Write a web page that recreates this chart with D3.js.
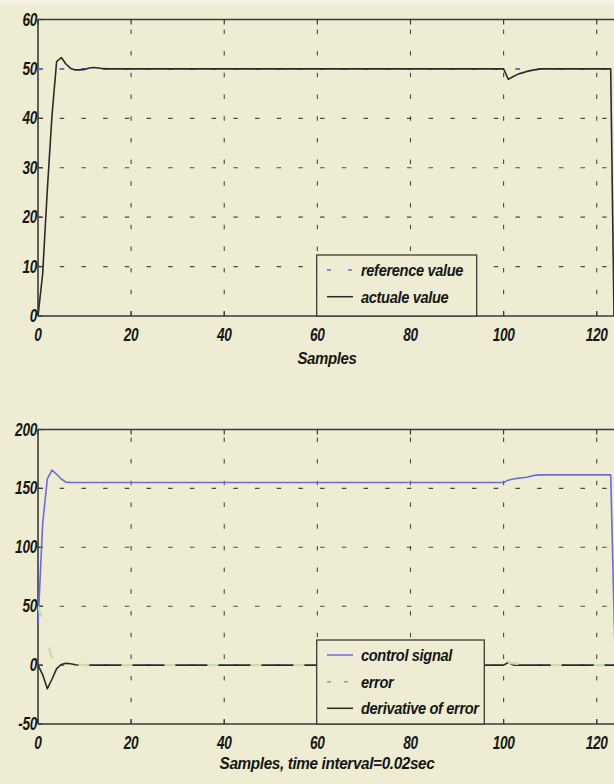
<!DOCTYPE html>
<html><head><meta charset="utf-8">
<script src="https://cdn.jsdelivr.net/npm/d3@7"></script>
<style>
html,body{margin:0;padding:0;background:#eeecd2;}
svg{display:block;}
</style></head>
<body>
<script>
// ---------- data ----------
const xTicks = [0,20,40,60,80,100,120];
const yTicksTop = [0,10,20,30,40,50,60];
const yTicksBot = [-50,0,50,100,150,200];

const refX = [0,125];
const refY = [50,50];
const actX = [0,1,2,3,4,5,6,7,8,9,10,11,12,13,14,15,100,101,102,103,104,105,106,107,108,123,124];
const actY = [0,8.5,25.5,40.5,51.5,52.3,51,50.1,49.8,49.8,49.9,50.2,50.3,50.2,50.05,50,50,47.9,48.4,48.9,49.2,49.5,49.7,49.85,50,50,-20];

const ctrlX = [0,1,2,3,4,5,6,7,100,101,102,103,104,105,106,107,108,123,124];
const ctrlY = [35,120,158,165.5,162,158,155.3,155,155,157,158,158.5,159,159.5,160.5,161.3,161.5,161.5,0];
const errX = [0,1,2,3,4,5,6,7,8,9,10,11,12,13,14,100,101,102,103,104,105,106,107,108,124];
const errY = [50,38,20,6,-1.5,-2.3,-1,-0.1,0.2,0.2,0.1,-0.2,-0.3,-0.2,0,0,2.1,1.6,1.1,0.8,0.5,0.3,0.15,0,0];
const derX = [0,1,2,3,4,5,6,7,8,9,100,101,102,103,124];
const derY = [0,-8,-20,-12,-3,0.5,1.5,1.2,0.3,0,0,2.2,0.2,0,0];

const legendTop = ["reference value","actuale value"];
const legendBot = ["control signal","error","derivative of error"];
const xLabelTop = "Samples";
const xLabelBot = "Samples, time interval=0.02sec";

// ---------- layout ----------
const W=614,H=784;
const bg="#eeecd2", axisCol="#3a3a38", gridCol="#4a4a46";
const blue="#6b6bdc", green="#c4e2a8", black="#2a2a28";
const FONT="'Liberation Sans', Arial, sans-serif";

const svg=d3.select("body").append("svg").attr("width",W).attr("height",H);
svg.append("rect").attr("width",W).attr("height",H).attr("fill",bg);
svg.append("rect").attr("width",W).attr("height",5).attr("fill","#f3f2e2");

function txt(g,x,y,s,anchor,size,sx){
  g.append("text").attr("transform",`translate(${x},${y}) scale(${sx||0.74},1)`)
   .attr("text-anchor",anchor||"start").attr("font-family",FONT)
   .attr("font-style","italic").attr("font-weight","bold").attr("font-size",size||17)
   .attr("letter-spacing",-0.4).attr("fill","#161616").text(s);
}

function panel(cfg){
  const g=svg.append("g");
  const x=d3.scaleLinear().domain([0,125]).range([38,38+125*4.656]);
  const y=d3.scaleLinear().domain(cfg.yDomain).range([cfg.bottom,cfg.top]);
  const clipId="clip"+cfg.id;
  svg.append("clipPath").attr("id",clipId).append("rect")
    .attr("x",38).attr("y",cfg.top).attr("width",W-38).attr("height",cfg.bottom-cfg.top);
  // grid
  const grid=g.append("g").attr("stroke",gridCol).attr("stroke-width",1.1).attr("stroke-dasharray","4.5,17.2");
  xTicks.filter(t=>t>0).forEach(t=>grid.append("line").attr("x1",x(t)).attr("x2",x(t)).attr("y1",cfg.bottom).attr("y2",cfg.top));
  cfg.yTicks.filter(t=>t>cfg.yDomain[0]&&t<cfg.yDomain[1]).forEach(t=>grid.append("line").attr("x1",x(0)).attr("x2",W).attr("y1",y(t)).attr("y2",y(t)));
  // axes box
  const ax=g.append("g").attr("stroke",axisCol).attr("stroke-width",1.6).attr("fill","none");
  ax.append("line").attr("x1",x(0)).attr("x2",W).attr("y1",cfg.bottom).attr("y2",cfg.bottom);
  ax.append("line").attr("x1",x(0)).attr("x2",W).attr("y1",cfg.top).attr("y2",cfg.top);
  ax.append("line").attr("x1",x(0)).attr("x2",x(0)).attr("y1",cfg.top).attr("y2",cfg.bottom);
  xTicks.forEach(t=>{
    ax.append("line").attr("x1",x(t)).attr("x2",x(t)).attr("y1",cfg.bottom).attr("y2",cfg.bottom-5).attr("stroke-width",1.2);
    ax.append("line").attr("x1",x(t)).attr("x2",x(t)).attr("y1",cfg.top).attr("y2",cfg.top+5).attr("stroke-width",1.2);
  });
  cfg.yTicks.forEach(t=>ax.append("line").attr("x1",x(0)).attr("x2",x(0)+5).attr("y1",y(t)).attr("y2",y(t)).attr("stroke-width",1.2));
  // tick labels
  xTicks.forEach(t=>txt(g,x(t),cfg.bottom+25,String(t),"middle",18,0.76));
  cfg.yTicks.forEach(t=>txt(g,37,y(t)+6,String(t),"end",18,0.76));
  txt(g,327,cfg.labelY,cfg.label,"middle",17,cfg.labelSx);
  // data
  const dg=svg.append("g").attr("clip-path",`url(#${clipId})`).attr("fill","none");
  const line=d3.line().x(d=>x(d[0])).y(d=>y(d[1]));
  cfg.series.forEach(s=>{
    dg.append("path").datum(d3.zip(s.xs,s.ys)).attr("d",line)
      .attr("stroke",s.color).attr("stroke-width",s.w||1.5)
      .attr("stroke-dasharray",s.dash||null).attr("stroke-linejoin","round");
  });
  // legend
  const L=cfg.legend;
  const lg=svg.append("g");
  lg.append("rect").attr("x",L.x0).attr("y",L.y0).attr("width",L.x1-L.x0).attr("height",cfg.bottom-L.y0)
    .attr("fill",bg).attr("stroke",axisCol).attr("stroke-width",1.3);
  L.items.forEach((it,i)=>{
    const yy=L.ys[i];
    lg.append("line").attr("x1",327).attr("x2",353).attr("y1",yy).attr("y2",yy)
      .attr("stroke",it.lcolor||it.color).attr("stroke-width",1.5).attr("stroke-dasharray",it.ldash||null);
    txt(lg,361,yy+6,it.name,"start",17,0.86);
  });
}

panel({id:"t",yDomain:[0,60],yTicks:yTicksTop,top:19.5,bottom:316,label:xLabelTop,labelY:364,labelSx:0.88,
  series:[
    {xs:refX,ys:refY,color:blue,dash:"4.5,17.2"},
    {xs:actX,ys:actY,color:black,w:1.6}
  ],
  legend:{x0:316.7,x1:476.7,y0:255,ys:[270,296.7],items:[
    {name:legendTop[0],color:blue,ldash:"4,17"},
    {name:legendTop[1],color:black}
  ]}
});

panel({id:"b",yDomain:[-50,200],yTicks:yTicksBot,top:429.5,bottom:724,label:xLabelBot,labelY:769,labelSx:0.9,
  series:[
    {xs:ctrlX,ys:ctrlY,color:blue,w:1.6},
    {xs:derX,ys:derY,color:black,w:1.6},
    {xs:errX,ys:errY,color:green,dash:"11,32",w:2.4}
  ],
  legend:{x0:316.7,x1:484.3,y0:640,ys:[655,681.7,708.3],items:[
    {name:legendBot[0],color:blue},
    {name:legendBot[1],color:green,lcolor:"#55c855",ldash:"4,13"},
    {name:legendBot[2],color:black}
  ]}
});
</script>
</body></html>
